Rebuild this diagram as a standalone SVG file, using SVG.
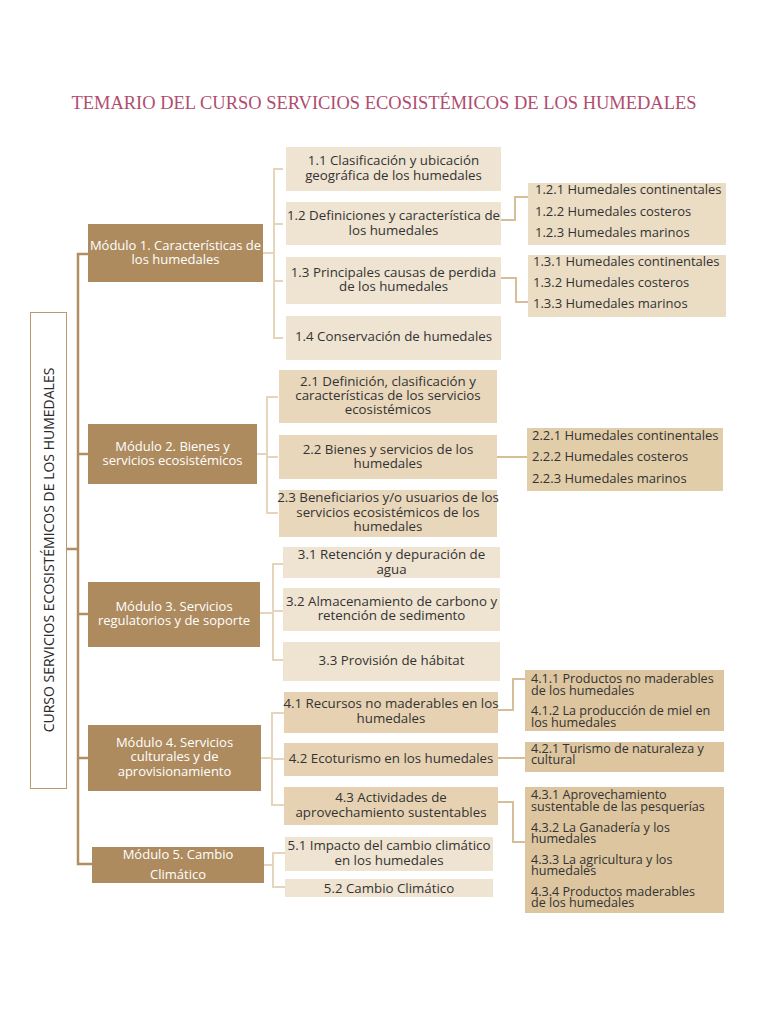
<svg xmlns="http://www.w3.org/2000/svg" width="768" height="1024" viewBox="0 0 768 1024">
<style>
  .title { font-family: "Liberation Serif", "DejaVu Serif", serif; font-size: 19px; fill: #b04c6f; }
  .vt { font-family: "Open Sans", "Liberation Sans", sans-serif; font-size: 14px; fill: #2a2a2a; }
  .mod { fill: #ad8b5e; }
  .mt { font-family: "Open Sans", "Liberation Sans", sans-serif; font-size: 13px; fill: #ffffff; text-anchor: middle; }
  .s1 { fill: #efe3d1; }
  .s2 { fill: #e8d7bb; }
  .s4 { fill: #e6d2b2; }
  .t1 { fill: #ebdcc4; }
  .t2 { fill: #e2cda9; }
  .t4 { fill: #dcc59f; }
  .st { font-family: "Open Sans", "Liberation Sans", sans-serif; font-size: 13.3px; fill: #333333; text-anchor: middle; }
  .tt { font-family: "Open Sans", "Liberation Sans", sans-serif; font-size: 13px; fill: #333333; }
  .tn { font-family: "Open Sans", "Liberation Sans", sans-serif; font-size: 12.6px; fill: #333333; }
  .trunk { fill: none; stroke: #b08e62; stroke-width: 2.5; }
  .br { fill: none; stroke: #e5d5bb; stroke-width: 2; }
  .cn { fill: none; stroke: #d6bf98; stroke-width: 2; }
</style>

<text class="title" x="384" y="109" text-anchor="middle" textLength="625" lengthAdjust="spacingAndGlyphs">TEMARIO DEL CURSO SERVICIOS ECOSISTÉMICOS DE LOS HUMEDALES</text>

<g id="connectors">
  <path class="trunk" d="M67,549 H78 M88,254 H78 V864 H92 M78,454 H88 M78,614 H88 M78,758 H88"/>
  <path class="br" d="M263,253 H274 M283,169 H274 V338 H283 M274,224 H283 M274,281 H283"/>
  <path class="br" d="M257,454 H267 M278,397 H267 V513 H278 M267,457 H278"/>
  <path class="br" d="M260,613 H273 M283,564 H273 V660 H283 M273,611 H283"/>
  <path class="br" d="M261,758 H272 M284,713 H272 V805 H284 M272,759 H284"/>
  <path class="br" d="M264,865 H273 M285,853 H273 V887 H285"/>
  <path class="cn" d="M500,220 H515 V197 H528"/>
  <path class="cn" d="M500,278 H516 V302 H528"/>
  <path class="cn" d="M497,457 H527"/>
  <path class="cn" d="M498,710 H513 V679 H525"/>
  <path class="cn" d="M498,758 H525"/>
  <path class="cn" d="M498,802 H513 V842 H525"/>
</g>

<g id="root">
  <rect x="30.5" y="312.5" width="36" height="476" fill="#ffffff" stroke="#b59a73" stroke-width="1"/>
  <text class="vt" transform="translate(54,550) rotate(-90)" text-anchor="middle">CURSO SERVICIOS ECOSISTÉMICOS DE LOS HUMEDALES</text>
</g>

<g id="m1">
  <rect class="mod" x="88" y="224" width="175" height="58"/>
  <text class="mt" x="175.5" y="250">Módulo 1. Características de</text>
  <text class="mt" x="175.5" y="264">los humedales</text>
</g>
<g id="m2">
  <rect class="mod" x="88" y="424" width="169" height="60"/>
  <text class="mt" x="172.5" y="451">Módulo 2. Bienes y</text>
  <text class="mt" x="172.5" y="465">servicios ecosistémicos</text>
</g>
<g id="m3">
  <rect class="mod" x="88" y="582" width="172" height="65"/>
  <text class="mt" x="174" y="611">Módulo 3. Servicios</text>
  <text class="mt" x="174" y="625">regulatorios y de soporte</text>
</g>
<g id="m4">
  <rect class="mod" x="88" y="725" width="173" height="66"/>
  <text class="mt" x="174.5" y="747">Módulo 4. Servicios</text>
  <text class="mt" x="174.5" y="761">culturales y de</text>
  <text class="mt" x="174.5" y="776">aprovisionamiento</text>
</g>
<g id="m5">
  <rect class="mod" x="92" y="847" width="172" height="36"/>
  <text class="mt" x="178" y="859">Módulo 5. Cambio</text>
  <text class="mt" x="178" y="879">Climático</text>
</g>

<g id="n1_1">
  <rect class="s1" x="286" y="147" width="215" height="44"/>
  <text class="st" x="393.5" y="165">1.1 Clasificación y ubicación</text>
  <text class="st" x="393.5" y="180">geográfica de los humedales</text>
</g>
<g id="n1_2">
  <rect class="s1" x="286" y="202" width="215" height="43"/>
  <text class="st" x="393.5" y="220">1.2 Definiciones y característica de</text>
  <text class="st" x="393.5" y="235">los humedales</text>
</g>
<g id="n1_3">
  <rect class="s1" x="286" y="257" width="215" height="47"/>
  <text class="st" x="393.5" y="277">1.3 Principales causas de perdida</text>
  <text class="st" x="393.5" y="291">de los humedales</text>
</g>
<g id="n1_4">
  <rect class="s1" x="286" y="316" width="215" height="44"/>
  <text class="st" x="393.5" y="341">1.4 Conservación de humedales</text>
</g>

<g id="n1_2x">
  <rect class="t1" x="528" y="183" width="198" height="62"/>
  <text class="tt" x="535" y="194">1.2.1 Humedales continentales</text>
  <text class="tt" x="535" y="215.5">1.2.2 Humedales costeros</text>
  <text class="tt" x="535" y="237">1.2.3 Humedales marinos</text>
</g>
<g id="n1_3x">
  <rect class="t1" x="528" y="255" width="198" height="62"/>
  <text class="tt" x="533" y="266">1.3.1 Humedales continentales</text>
  <text class="tt" x="533" y="287">1.3.2 Humedales costeros</text>
  <text class="tt" x="533" y="308">1.3.3 Humedales marinos</text>
</g>

<g id="n2_1">
  <rect class="s2" x="279" y="370" width="218" height="53"/>
  <text class="st" x="388" y="386">2.1 Definición, clasificación y</text>
  <text class="st" x="388" y="400">características de los servicios</text>
  <text class="st" x="388" y="414">ecosistémicos</text>
</g>
<g id="n2_2">
  <rect class="s2" x="279" y="435" width="218" height="44"/>
  <text class="st" x="388" y="453.5">2.2 Bienes y servicios de los</text>
  <text class="st" x="388" y="467.5">humedales</text>
</g>
<g id="n2_3">
  <rect class="s2" x="279" y="490" width="218" height="47"/>
  <text class="st" x="388" y="501.5">2.3 Beneficiarios y/o usuarios de los</text>
  <text class="st" x="388" y="516.5">servicios ecosistémicos de los</text>
  <text class="st" x="388" y="530.5">humedales</text>
</g>
<g id="n2_2x">
  <rect class="t2" x="527" y="428" width="196" height="63"/>
  <text class="tt" x="532" y="439.5">2.2.1 Humedales continentales</text>
  <text class="tt" x="532" y="460.5">2.2.2 Humedales costeros</text>
  <text class="tt" x="532" y="482.5">2.2.3 Humedales marinos</text>
</g>

<g id="n3_1">
  <rect class="s1" x="283" y="547" width="217" height="31"/>
  <text class="st" x="391.5" y="558.5">3.1 Retención y depuración de</text>
  <text class="st" x="391.5" y="573.5">agua</text>
</g>
<g id="n3_2">
  <rect class="s1" x="283" y="588" width="217" height="43"/>
  <text class="st" x="391.5" y="605.5">3.2 Almacenamiento de carbono y</text>
  <text class="st" x="391.5" y="619.5">retención de sedimento</text>
</g>
<g id="n3_3">
  <rect class="s1" x="283" y="642" width="217" height="39"/>
  <text class="st" x="391.5" y="664.5">3.3 Provisión de hábitat</text>
</g>

<g id="n4_1">
  <rect class="s4" x="284" y="692" width="214" height="41"/>
  <text class="st" x="391" y="707.5">4.1 Recursos no maderables en los</text>
  <text class="st" x="391" y="722.5">humedales</text>
</g>
<g id="n4_2">
  <rect class="s4" x="284" y="743" width="214" height="33"/>
  <text class="st" x="391" y="762.5">4.2 Ecoturismo en los humedales</text>
</g>
<g id="n4_3">
  <rect class="s4" x="284" y="787" width="214" height="38"/>
  <text class="st" x="391" y="801.5">4.3 Actividades de</text>
  <text class="st" x="391" y="816.5">aprovechamiento sustentables</text>
</g>
<g id="n4_1x">
  <rect class="t4" x="525" y="670" width="199" height="61"/>
  <text class="tn" x="531" y="683">4.1.1 Productos no maderables</text>
  <text class="tn" x="531" y="694.5">de los humedales</text>
  <text class="tn" x="531" y="715">4.1.2 La producción de miel en</text>
  <text class="tn" x="531" y="726.5">los humedales</text>
</g>
<g id="n4_2x">
  <rect class="t4" x="525" y="742" width="199" height="30"/>
  <text class="tn" x="531" y="752.5">4.2.1 Turismo de naturaleza y</text>
  <text class="tn" x="531" y="764">cultural</text>
</g>
<g id="n4_3x">
  <rect class="t4" x="525" y="787" width="199" height="126"/>
  <text class="tn" x="531" y="799">4.3.1 Aprovechamiento</text>
  <text class="tn" x="531" y="810.5">sustentable de las pesquerías</text>
  <text class="tn" x="531" y="831.5">4.3.2 La Ganadería y los</text>
  <text class="tn" x="531" y="843">humedales</text>
  <text class="tn" x="531" y="863.5">4.3.3 La agricultura y los</text>
  <text class="tn" x="531" y="875">humedales</text>
  <text class="tn" x="531" y="895.5">4.3.4 Productos maderables</text>
  <text class="tn" x="531" y="907">de los humedales</text>
</g>

<g id="n5_1">
  <rect class="s1" x="285" y="837" width="208" height="34"/>
  <text class="st" x="389" y="849.5">5.1 Impacto del cambio climático</text>
  <text class="st" x="389" y="864.5">en los humedales</text>
</g>
<g id="n5_2">
  <rect class="s1" x="285" y="879" width="208" height="18"/>
  <text class="st" x="389" y="892.5">5.2 Cambio Climático</text>
</g>
</svg>
